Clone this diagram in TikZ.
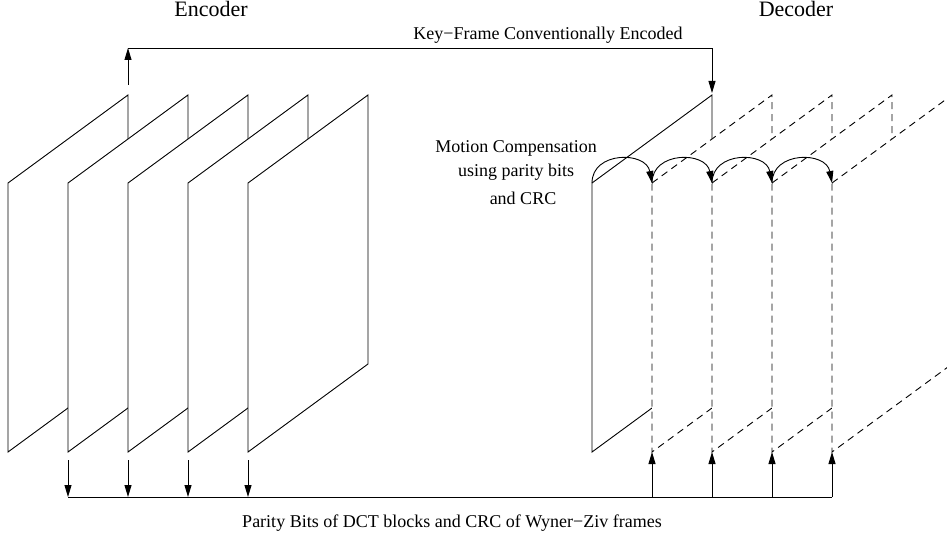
\documentclass[tikz,border=0pt]{standalone}
\usepackage{fontspec}
\setmainfont{Liberation Serif}
\usetikzlibrary{arrows.meta,calc}
\begin{document}
\begin{tikzpicture}[x=1pt,y=-1pt,
  frame/.style={draw=black,fill=white,line width=0.9pt,line join=miter},
  ghost/.style={frame,dash pattern=on 7pt off 5pt},
  wire/.style={draw=black,line width=0.9pt},
  flow/.style={wire,-{Triangle[length=12pt,width=7pt]}},
  lbl/.style={font=\fontsize{18}{22}\selectfont,inner sep=0pt,anchor=base},
  head/.style={font=\fontsize{22}{26}\selectfont,inner sep=0pt,anchor=base}]
\useasboundingbox (0,0) rectangle (947,537);
\clip (0,0) rectangle (947,537);

% encoder: five stacked frames, each one in front of the previous
\foreach \k in {0,...,4}{
  \pgfmathsetmacro\L{8+60*\k}
  \draw[frame] (\L,183) -- (\L+120,95) -- (\L+120,364) -- (\L,452) -- cycle;
  \coordinate (etop\k) at (\L+120,85);
  \coordinate (eout\k) at (\L,460);
  \coordinate (ebus\k) at (\L,497);
}

% decoder: key frame (solid) followed by the Wyner-Ziv frames (dashed)
\draw[frame] (592,183) -- (712,95) -- (712,364) -- (592,452) -- cycle;
\coordinate (dkey) at (712,93);
\coordinate (dk0) at (592,183);
\foreach \k in {1,...,4}{
  \pgfmathsetmacro\L{592+60*\k}
  \draw[ghost] (\L,183) -- (\L+120,95) -- (\L+120,364) -- (\L,452) -- cycle;
  \coordinate (dk\k) at (\L,183);
  \coordinate (din\k) at (\L,452);
  \coordinate (dbus\k) at (\L,497);
}

% key frame sent over the top
\coordinate (kup) at (128,48);
\coordinate (kover) at (712,48);
\draw[flow] (etop0) -- (kup);
\draw[flow] (kup) -- (kover) -- (dkey);

% parity bits bus along the bottom
\foreach \k in {1,...,4}{ \draw[flow] (eout\k) -- (ebus\k); }
\draw[wire] (ebus1) -- (dbus4);
\foreach \k in {1,...,4}{ \draw[flow] (dbus\k) -- (din\k); }

% motion compensation hops between decoder frames
\foreach \k [count=\n from 1] in {0,...,3}{
  \draw[flow] (dk\k) .. controls ($(dk\k)+(0,-32)$) and ($(dk\n)+(-6,-32)$) .. (dk\n);
}

% labels
\node[head] (enc) at (211,17) {Encoder};
\node[head] (dec) at (796,17) {Decoder};
\node[lbl] (keylbl) at (548,40) {Key−Frame Conventionally Encoded};
\node[lbl] (mc1) at (516,153) {Motion Compensation};
\node[lbl] (mc2) at (516,177) {using parity bits};
\node[lbl] (mc3) at (523,205) {and CRC};
\node[lbl] (parity) at (452,527) {Parity Bits of DCT blocks and CRC of Wyner−Ziv frames};
\end{tikzpicture}
\end{document}
